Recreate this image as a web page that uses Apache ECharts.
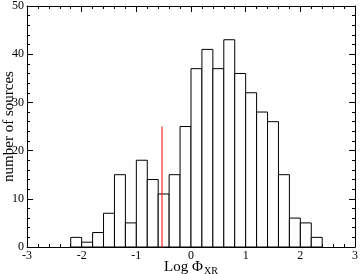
<!DOCTYPE html>
<html>
<head>
<meta charset="utf-8">
<title>Log Phi XR histogram</title>
<script src="https://cdn.jsdelivr.net/npm/echarts@6/dist/echarts.min.js"></script>
<style>
  html, body { margin: 0; padding: 0; background: #fff; }
</style>
</head>
<body>
<div id="main" style="width:360px;height:274px;"></div>
<script>
// bin left edges (width 0.2) and counts
var binStarts = [-2.2, -2.0, -1.8, -1.6, -1.4, -1.2, -1.0, -0.8, -0.6, -0.4, -0.2,
                 0.0, 0.2, 0.4, 0.6, 0.8, 1.0, 1.2, 1.4, 1.6, 1.8, 2.0, 2.2];
var counts = [2, 1, 3, 7, 15, 5, 18, 14, 11, 15, 25,
              37, 41, 37, 43, 36, 32, 28, 26, 15, 6, 5, 2];
var binWidth = 0.2;
// red marker line
var markerX = -0.53;
var markerTop = 25;

var font = 'Liberation Serif';
var myChart = echarts.init(document.getElementById('main'));

var histData = [];
for (var i = 0; i < binStarts.length; i++) {
    histData.push([binStarts[i], counts[i]]);
}

function axisCommon(show) {
    return {
        nameMoveOverlap: false,
        axisLine: { onZero: false, lineStyle: { color: '#000', width: 1 } },
        axisTick: { inside: true, length: 6, lineStyle: { color: '#000' } },
        minorTick: { show: true, splitNumber: 5, length: 3, lineStyle: { color: '#000' } },
        splitLine: { show: false },
        axisLabel: { show: show, color: '#000', fontFamily: font, fontSize: 12, margin: 3 }
    };
}

var option = {
    animation: false,
    grid: { left: 27, right: 5, top: 6, bottom: 27, outerBoundsMode: 'none', containLabel: false },
    xAxis: [
        Object.assign({
            type: 'value', min: -3, max: 3, interval: 1, position: 'bottom',
            name: '{a|Log Φ}{b|XR}', nameLocation: 'middle', nameGap: 11,
            nameTextStyle: {
                rich: {
                    a: { fontFamily: font, fontSize: 15, color: '#000' },
                    b: { fontFamily: font, fontSize: 10, color: '#000', verticalAlign: 'bottom', padding: [8, 0, 0, 1] }
                }
            }
        }, axisCommon(true)),
        Object.assign({ type: 'value', min: -3, max: 3, interval: 1, position: 'top' }, axisCommon(false))
    ],
    yAxis: [
        Object.assign({
            type: 'value', min: 0, max: 50, interval: 10, position: 'left',
            name: 'number of sources', nameLocation: 'middle', nameGap: 10,
            nameTextStyle: { fontFamily: font, fontSize: 15, color: '#000' }
        }, axisCommon(true)),
        Object.assign({ type: 'value', min: 0, max: 50, interval: 10, position: 'right' }, axisCommon(false))
    ],
    series: [
        {
            type: 'custom',
            xAxisIndex: 0,
            yAxisIndex: 0,
            data: histData,
            renderItem: function (params, api) {
                var x0 = api.value(0);
                var v = api.value(1);
                var p0 = api.coord([x0, 0]);
                var p1 = api.coord([x0 + binWidth, v]);
                return {
                    type: 'rect',
                    shape: { x: p0[0], y: p1[1], width: p1[0] - p0[0], height: p0[1] - p1[1] },
                    style: { fill: '#fff', stroke: '#000', lineWidth: 1 }
                };
            }
        },
        {
            type: 'line',
            xAxisIndex: 0,
            yAxisIndex: 0,
            z: 5,
            data: [[markerX, 0], [markerX, markerTop]],
            symbol: 'none',
            lineStyle: { color: '#ff0000', width: 1 }
        }
    ]
};

myChart.setOption(option);
</script>
</body>
</html>
